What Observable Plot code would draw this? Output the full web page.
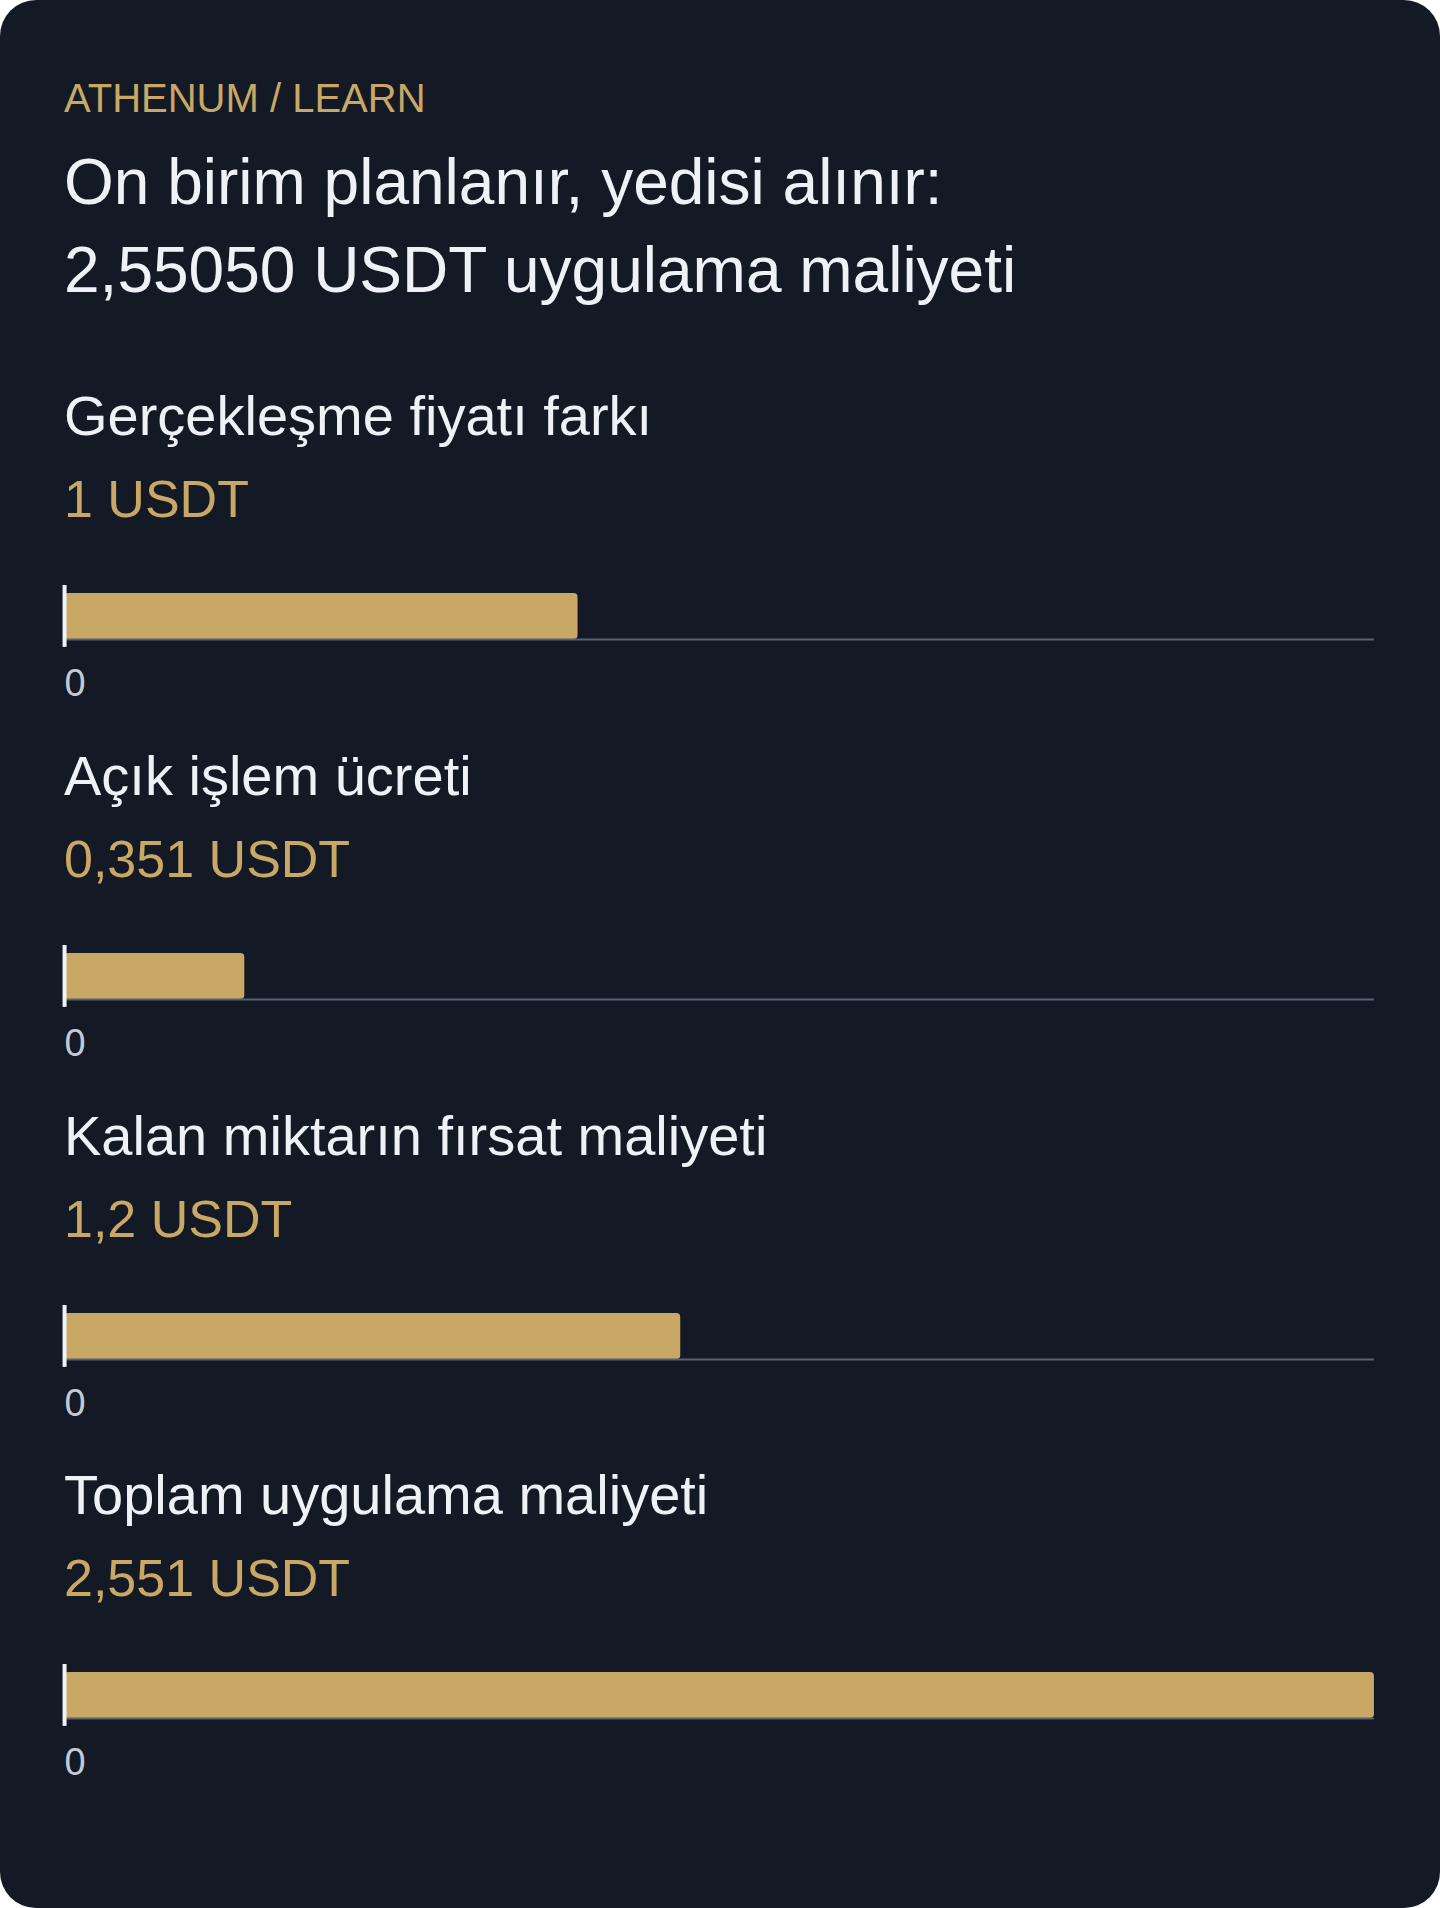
<!DOCTYPE html>
<html lang="tr">
<head>
<meta charset="utf-8">
<script src="https://cdn.jsdelivr.net/npm/d3@7"></script>
<script src="https://cdn.jsdelivr.net/npm/@observablehq/plot@0.6"></script>
<style>
  html, body { margin: 0; padding: 0; background: #ffffff; }
  body { width: 1440px; height: 1908px; }
  .card {
    box-sizing: border-box;
    width: 1440px; height: 1908px;
    background: #131a26;
    border-radius: 36px;
    padding: 74px 64px 0 64px;
    font-family: "Liberation Sans", Arial, sans-serif;
    overflow: hidden;
  }
  .eyebrow { color: #c9a764; font-size: 40px; line-height: 48px; margin: 0; }
  h1 { color: #eef1f6; font-size: 64px; line-height: 88px; font-weight: 400; margin: 16px 0 0 0; }
  .section { margin: 0; }
  .lbl { color: #eef1f6; font-size: 56px; line-height: 64px; margin: 0; }
  .val { color: #c9a764; font-size: 52px; line-height: 64px; margin: 19px 0 0 0; }
  .plotwrap { margin: 44px 0 35px -2px; }
  .plotwrap svg { display: block; overflow: visible; }
</style>
</head>
<body>
<div class="card" id="card">
  <div class="eyebrow">ATHENUM / LEARN</div>
  <h1>On birim planlanır, yedisi alınır:<br>2,55050 USDT uygulama maliyeti</h1>
  <div id="sections" style="margin-top:70px"></div>
</div>
<script>
const categories = ["Gerçekleşme fiyatı farkı", "Açık işlem ücreti", "Kalan miktarın fırsat maliyeti", "Toplam uygulama maliyeti"];
const values = [1, 0.351, 1.2, 2.551];
const unit = "USDT";
const tickValues = [0];

const gold = "#c9a764";
const maxValue = d3.max(values);
const container = document.getElementById("sections");

categories.forEach((name, i) => {
  const sec = document.createElement("div");
  sec.className = "section";
  const lbl = document.createElement("div");
  lbl.className = "lbl";
  lbl.textContent = name;
  const val = document.createElement("div");
  val.className = "val";
  val.textContent = String(values[i]).replace(".", ",") + " " + unit;
  sec.appendChild(lbl);
  sec.appendChild(val);

  const chart = Plot.plot({
    width: 1316,
    height: 134,
    marginLeft: 2,
    marginRight: 2,
    marginTop: 18,
    marginBottom: 70,
    style: {background: "transparent", fontFamily: "'Liberation Sans', Arial, sans-serif", fontSize: "38px", color: "#c5cad3"},
    x: {domain: [0, maxValue]},
    y: {domain: [0, 1], axis: null},
    marks: [
      Plot.rectX([{name, value: values[i]}], {x: "value", y1: () => 0, y2: () => 1, fill: gold, rx: 4}),
      Plot.ruleY([0], {stroke: "#576172", strokeWidth: 2}),
      Plot.ruleX([0], {stroke: "#f0f2f5", strokeWidth: 4, insetTop: -8, insetBottom: -8}),
      Plot.axisX({ticks: tickValues, tickFormat: d => String(d), tickSize: 0, tickPadding: 30, fontSize: 38, fill: "#c5cad3", textAnchor: "start", label: null})
    ]
  });
  const wrap = document.createElement("div");
  wrap.className = "plotwrap";
  wrap.appendChild(chart);
  sec.appendChild(wrap);
  container.appendChild(sec);
});
</script>
</body>
</html>
